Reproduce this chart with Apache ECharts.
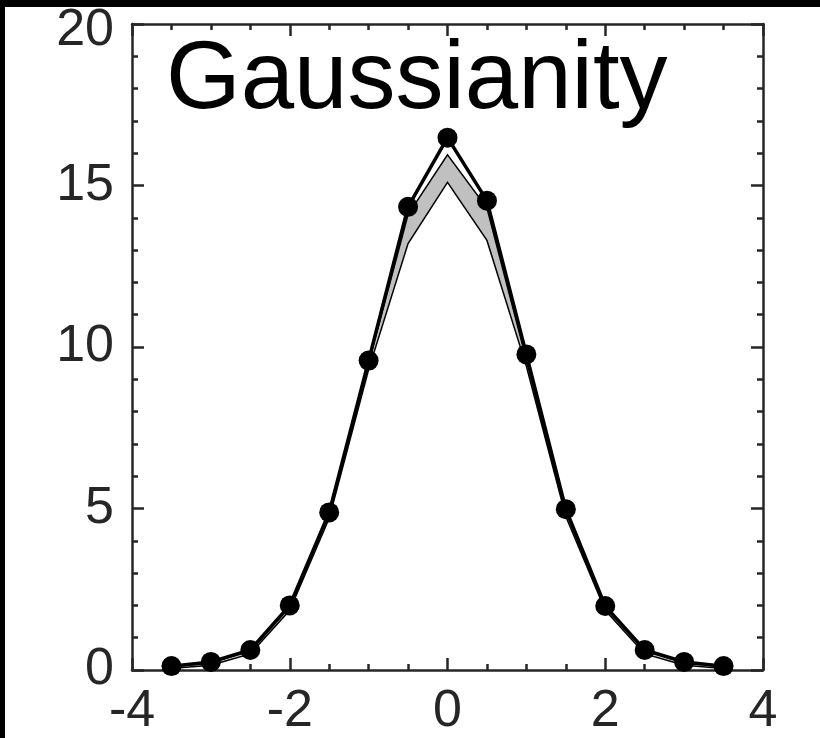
<!DOCTYPE html>
<html>
<head>
<meta charset="utf-8">
<script src="https://cdn.jsdelivr.net/npm/echarts@6/dist/echarts.min.js"></script>
<style>
html,body{margin:0;padding:0;background:#fff;}
#chart{width:820px;height:738px;}
</style>
</head>
<body>
<div id="chart"></div>
<script>
// Data
var xValues = [-3.5, -3, -2.5, -2, -1.5, -1, -0.5, 0, 0.5, 1, 1.5, 2, 2.5, 3, 3.5];
var observed = [0.12, 0.25, 0.62, 2.0, 4.88, 9.58, 14.34, 16.48, 14.53, 9.77, 4.98, 1.98, 0.62, 0.25, 0.12];
var bandLower = [0.05, 0.15, 0.5, 1.85, 4.7, 9.3, 13.2, 15.1, 13.3, 9.4, 4.75, 1.85, 0.5, 0.15, 0.05];
var bandUpper = [0.1, 0.22, 0.6, 1.95, 4.85, 9.5, 14.1, 15.95, 14.3, 9.6, 4.9, 1.95, 0.6, 0.22, 0.1];
var xTicks = [-4, -2, 0, 2, 4];
var yTicks = [0, 5, 10, 15, 20];
var titleText = 'Gaussianity';

var axisColor = '#262626';
var font = 'Liberation Sans, Arial, Helvetica, sans-serif';

function pairs(xs, ys) { return xs.map(function (x, i) { return [x, ys[i]]; }); }

function xAx(pos, showLabel) {
  return {
    type: 'value', position: pos, min: xTicks[0], max: xTicks[xTicks.length - 1],
    interval: xTicks[1] - xTicks[0],
    axisLine: { show: true, onZero: false, lineStyle: { color: axisColor, width: 2.5 } },
    axisTick: { show: true, inside: true, length: 12, lineStyle: { color: axisColor, width: 2.5 } },
    minorTick: { show: true, splitNumber: 4, length: 6, lineStyle: { color: axisColor, width: 2.5 } },
    splitLine: { show: false },
    axisLabel: { show: showLabel, fontSize: 52, color: axisColor, fontFamily: font, margin: 16 }
  };
}
function yAx(pos, showLabel) {
  return {
    type: 'value', position: pos, min: yTicks[0], max: yTicks[yTicks.length - 1],
    interval: yTicks[1] - yTicks[0],
    axisLine: { show: true, onZero: false, lineStyle: { color: axisColor, width: 2.5 } },
    axisTick: { show: true, inside: true, length: 12, lineStyle: { color: axisColor, width: 2.5 } },
    minorTick: { show: true, splitNumber: 5, length: 6, lineStyle: { color: axisColor, width: 2.5 } },
    splitLine: { show: false },
    axisLabel: {
      show: showLabel, fontSize: 52, color: axisColor, fontFamily: font, margin: 18,
      formatter: function (v) { return v === yTicks[yTicks.length - 1] ? '{top|' + v + '}' : String(v); },
      rich: { top: { fontSize: 52, color: axisColor, fontFamily: font, padding: [14, 0, 0, 0] } }
    }
  };
}

var chart = echarts.init(document.getElementById('chart'), null, { renderer: 'canvas' });
chart.setOption({
  animation: false,
  backgroundColor: '#fff',
  grid: { left: 132, right: 57, top: 24, bottom: 67, containLabel: false },
  title: {
    text: titleText, left: 161, top: 29,
    textStyle: { fontSize: 96, fontWeight: 'normal', color: '#000', fontFamily: font }
  },
  xAxis: [xAx('bottom', true), xAx('top', false)],
  yAxis: [yAx('left', true), yAx('right', false)],
  graphic: [
    { type: 'rect', shape: { x: 0, y: 0, width: 820, height: 7 }, style: { fill: '#000' }, z: 100 },
    { type: 'rect', shape: { x: 0, y: 0, width: 5, height: 738 }, style: { fill: '#000' }, z: 100 }
  ],
  series: [
    {
      type: 'custom',
      data: [0],
      z: 2,
      renderItem: function (params, api) {
        var pts = [];
        for (var i = 0; i < xValues.length; i++) pts.push(api.coord([xValues[i], bandUpper[i]]));
        for (var j = xValues.length - 1; j >= 0; j--) pts.push(api.coord([xValues[j], bandLower[j]]));
        return {
          type: 'polygon',
          shape: { points: pts },
          style: { fill: '#c0c0c0', stroke: '#000', lineWidth: 1.5, lineJoin: 'miter' }
        };
      }
    },
    {
      type: 'line', data: pairs(xValues, observed),
      symbol: 'circle', symbolSize: 20,
      itemStyle: { color: '#000' },
      lineStyle: { color: '#000', width: 3.5 }, z: 3
    }
  ]
});
</script>
</body>
</html>
